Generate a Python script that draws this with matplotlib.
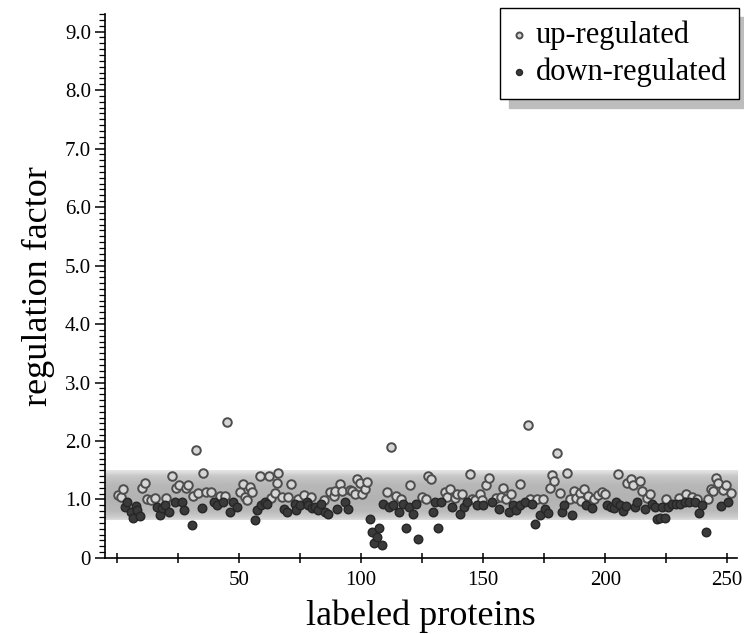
import numpy as np
import matplotlib.pyplot as plt

plt.rcParams['font.family'] = ['Liberation Serif', 'DejaVu Serif']

# values: protein number and regulation factor
up_x = [0.5, 1.5, 2.3, 10.2, 11.3, 12.4, 13.8, 15.4, 20.2, 22.3, 24.3, 25.4, 28.4, 29.2,
        31.1, 32.2, 33.2, 35.2, 36.2, 38.4, 42.2, 44.1, 45.2, 50.5, 51.5, 52.3, 53.4, 54.4,
        55.3, 58.5, 62.3, 63.1, 64.5, 65.4, 66.1, 67.5, 70.2, 71.3, 74.3, 76.4, 79.5, 84.6,
        87.3, 88.7, 89.3, 91.4, 92.3, 95.5, 96.4, 97.3, 98.2, 99.6, 100.3, 101.4, 102.3,
        110.4, 112.3, 114.3, 116.4, 120.2, 125.1, 126.4, 127.2, 128.5, 134.4, 135.1, 136.5,
        138.3, 139.2, 141.3, 144.4, 145.4, 146.7, 148.5, 149.4, 151.2, 152.2, 155.3, 157.4,
        158.3, 159.4, 161.3, 165.2, 168.3, 169.3, 172.0, 174.5, 177.2, 178.3, 179.2, 180.2,
        181.3, 184.3, 185.4, 187.3, 188.1, 189.6, 190.0, 191.4, 193.0, 195.5, 197.1, 198.8,
        200.1, 205.3, 209.1, 210.4, 211.5, 214.2, 215.2, 217.3, 218.3, 225.1, 230.3, 233.1,
        235.4, 237.8, 242.2, 243.3, 244.3, 245.2, 246.3, 248.4, 249.5, 251.4]
up_y = [1.08, 1.04, 1.18, 1.20, 1.29, 1.00, 0.99, 1.03, 1.03, 1.40, 1.20, 1.25, 1.19, 1.25,
        1.06, 1.84, 1.11, 1.45, 1.13, 1.13, 1.06, 1.06, 2.32, 1.12, 1.27, 1.04, 0.99, 1.22,
        1.13, 1.41, 1.40, 1.03, 1.11, 1.28, 1.46, 1.05, 1.05, 1.27, 1.00, 1.08, 1.04, 0.99,
        1.12, 1.06, 1.14, 1.26, 1.14, 1.16, 1.14, 1.09, 1.35, 1.29, 1.09, 1.18, 1.30,
        1.12, 1.90, 1.06, 1.00, 1.25, 1.05, 1.00, 1.41, 1.35, 1.13, 1.05, 1.18,
        1.02, 1.09, 1.09, 1.43, 1.00, 0.99, 1.09, 0.99, 1.25, 1.36, 1.02, 1.04,
        1.19, 1.00, 1.10, 1.26, 2.27, 1.01, 1.00, 1.00, 1.20, 1.42, 1.31, 1.80,
        1.11, 1.46, 1.00, 1.14, 1.02, 1.11, 0.98, 1.18, 1.06, 1.00, 1.07, 1.13,
        1.09, 1.43, 1.29, 1.35, 1.25, 1.32, 1.15, 1.02, 1.09, 1.00, 1.02, 1.09,
        1.04, 1.00, 1.00, 1.18, 1.14, 1.36, 1.28, 1.16, 1.25, 1.11]

down_x = [3.4, 4.2, 5.6, 6.3, 7.6, 8.3, 9.4, 16.5, 17.5, 18.2, 19.5, 21.3, 23.6, 26.4, 27.5,
          30.5, 34.6, 39.8, 41.1, 43.4, 46.2, 47.5, 48.9, 56.6, 57.2, 59.1, 60.5, 61.3, 68.2,
          69.5, 72.7, 73.2, 75.0, 77.7, 78.4, 79.8, 81.1, 82.1, 83.6, 85.2, 86.3, 90.0, 93.2,
          94.5, 103.4, 104.4, 105.1, 106.4, 107.1, 108.5, 109.1, 111.2, 113.2, 115.3, 117.1,
          118.4, 119.4, 121.2, 122.5, 123.4, 129.4, 130.3, 131.5, 132.7, 137.2, 140.3, 142.3,
          143.2, 147.4, 150.1, 153.5, 156.3, 160.4, 162.1, 163.5, 165.1, 167.2, 169.9, 171.3,
          173.4, 175.4, 176.4, 182.2, 183.3, 186.3, 192.3, 194.4, 200.9, 202.3, 203.7, 204.6,
          206.0, 207.1, 208.5, 212.2, 213.2, 216.2, 219.3, 220.4, 221.1, 222.5, 223.1, 224.3,
          225.9, 227.3, 229.0, 230.7, 232.7, 234.5, 236.9, 238.4, 239.8, 241.1, 247.4, 250.4]
down_y = [0.87, 0.95, 0.78, 0.68, 0.89, 0.82, 0.72, 0.88, 0.73, 0.85, 0.91, 0.79, 0.96, 0.96, 0.82,
          0.56, 0.85, 0.95, 0.91, 0.95, 0.79, 0.95, 0.88, 0.65, 0.82, 0.91, 0.95, 0.93, 0.83,
          0.79, 0.92, 0.82, 0.90, 0.96, 0.90, 0.86, 0.88, 0.82, 0.92, 0.79, 0.76, 0.83, 0.95,
          0.83, 0.67, 0.45, 0.26, 0.36, 0.51, 0.22, 0.92, 0.87, 0.90, 0.78, 0.93,
          0.52, 0.87, 0.76, 0.92, 0.32, 0.79, 0.95, 0.52, 0.96, 0.87, 0.75, 0.87,
          0.95, 0.91, 0.90, 0.95, 0.83, 0.79, 0.91, 0.82, 0.91, 0.95, 0.92, 0.58,
          0.74, 0.83, 0.77, 0.79, 0.91, 0.74, 0.91, 0.85, 0.91, 0.87, 0.86, 0.96,
          0.91, 0.80, 0.89, 0.87, 0.95, 0.83, 0.93, 0.87, 0.66, 0.68, 0.88, 0.69,
          0.87, 0.92, 0.92, 0.93, 0.95, 0.95, 0.95, 0.77, 0.91, 0.45, 0.89, 0.95]

band_lo, band_hi = 0.65, 1.5
y_ticks = [0, 1, 2, 3, 4, 5, 6, 7, 8, 9]
y_labels = ['0', '1.0', '2.0', '3.0', '4.0', '5.0', '6.0', '7.0', '8.0', '9.0']
x_ticks = list(range(0, 251, 25))
x_labels = [str(t) if t % 50 == 0 and t > 0 else '' for t in x_ticks]

fig = plt.figure(figsize=(7.44, 6.34), dpi=100)
ax = fig.add_axes([0.1411, 0.1199, 0.8495, 0.858])
ax.set_xlim(-5, 254)
ax.set_ylim(0, 9.3)

# shaded band of "no regulation", darker in the middle
yy = np.linspace(band_lo, band_hi, 200)
shade = np.interp(yy, [0.65, 0.70, 0.80, 1.0, 1.25, 1.40, 1.46, 1.5],
                  [0.87, 0.80, 0.73, 0.70, 0.72, 0.78, 0.86, 0.90])
ax.imshow(shade[:, None], extent=[-5, 254, band_lo, band_hi], origin='lower',
          aspect='auto', cmap='gray', vmin=0, vmax=1, zorder=0, interpolation='bilinear')

ax.scatter(up_x, up_y, s=38, facecolor='#d6d6d6', edgecolor='#4d4d4d', linewidth=1.4,
           zorder=3, label='up-regulated')
ax.scatter(down_x, down_y, s=38, facecolor='#3a3a3a', edgecolor='#262626', linewidth=1.0,
           zorder=3, label='down-regulated')

for side in ('top', 'right'):
    ax.spines[side].set_visible(False)
for side in ('left', 'bottom'):
    ax.spines[side].set_linewidth(1.2)

ax.set_yticks(y_ticks)
ax.set_yticklabels(y_labels)
ax.set_yticks(np.arange(0, 9.31, 0.1), minor=True)
ax.set_xticks(x_ticks)
ax.set_xticklabels(x_labels)
ax.tick_params(axis='y', which='major', direction='out', length=7, width=1.1, labelsize=15, pad=3)
ax.tick_params(axis='y', which='minor', direction='out', length=4, width=0.9)
ax.tick_params(axis='x', which='major', direction='inout', length=7, width=1.1, labelsize=15, pad=6)

ax.set_xlabel('labeled proteins', fontsize=26, labelpad=7)
ax.set_ylabel('regulation factor', fontsize=26, labelpad=7)

ax.legend(loc='upper right', bbox_to_anchor=(0.9933, 0.987), bbox_transform=fig.transFigure,
          fontsize=22, markerscale=0.7, frameon=True, fancybox=False, edgecolor='black',
          framealpha=1, borderaxespad=0, borderpad=0.4, handlelength=0.4, handletextpad=0.35,
          labelspacing=0.25,
          shadow={'ox': 6, 'oy': -6, 'facecolor': '#bdbdbd', 'edgecolor': '#bdbdbd', 'alpha': 1})

fig.savefig('out.png', dpi=100)
